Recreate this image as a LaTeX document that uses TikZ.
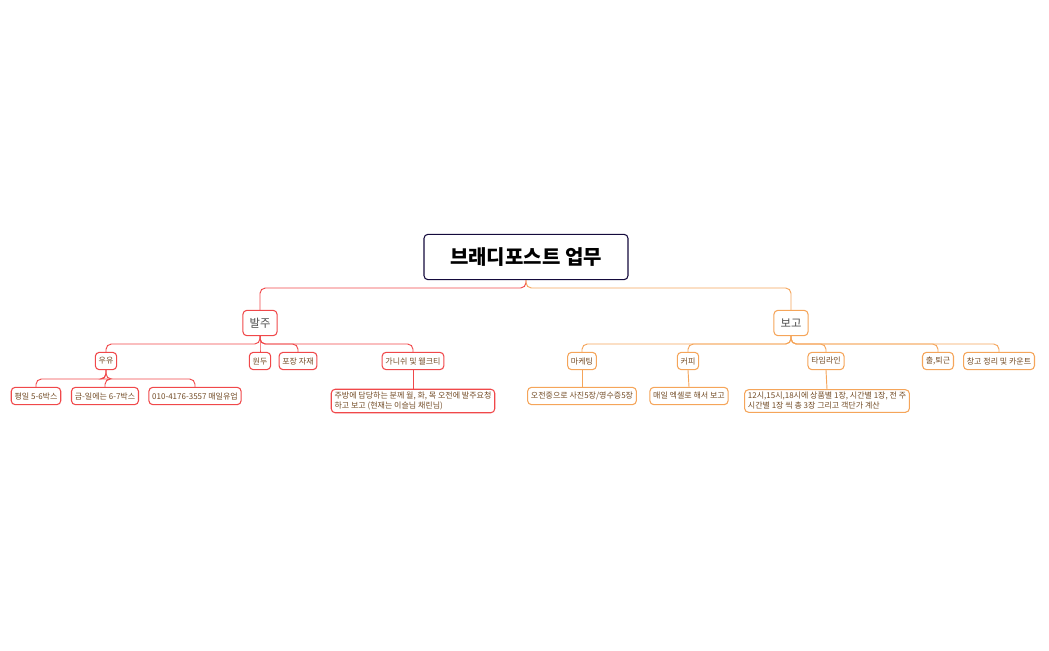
\documentclass[tikz,border=0pt]{standalone}
\usepackage{fontspec}
\setmainfont{Noto Sans CJK KR}
\begin{document}
\begin{tikzpicture}[x=0.75pt,y=-0.75pt,
  every node/.style={font=\fontsize{6}{7.5}\selectfont,rounded corners=3pt,line width=0.8pt,inner xsep=2.5pt,inner ysep=2pt,text=brown!60!black,fill=white},
  red/.style={draw={rgb,255:red,240;green,72;blue,74}},
  org/.style={draw={rgb,255:red,245;green,165;blue,90}},
  lv1/.style={font=\fontsize{8.5}{10}\selectfont,minimum height=19pt,inner xsep=5pt,text=black!70},
  lv2/.style={minimum height=13pt},
  lv3/.style={minimum height=13pt},
  rl/.style={draw={rgb,255:red,240;green,72;blue,74},line width=0.7pt,rounded corners=4pt},
  ol/.style={draw={rgb,255:red,245;green,165;blue,90},line width=0.7pt,rounded corners=4pt}]
\useasboundingbox (0,0) rectangle (1049,650);
\node[draw={rgb,255:red,20;green,10;blue,60},font=\fontsize{15}{18}\selectfont\bfseries,text=black,minimum width=153pt,minimum height=34pt] (root) at (526,257) {브래디포스트 업무};
\node[red,lv1] (a) at (260,323) {발주};
\node[org,lv1] (b) at (791,323) {보고};
\node[red,lv2] (a1) at (106,361) {우유};
\node[red,lv2] (a2) at (260,361) {원두};
\node[red,lv2] (a3) at (298,361) {포장 자재};
\node[red,lv2] (a4) at (413,361) {가니쉬 및 웰크티};
\node[red,lv3] (a11) at (36,396) {평일 5-6박스};
\node[red,lv3] (a12) at (105,396) {금-일에는 6-7박스};
\node[red,lv3] (a13) at (195,396) {010-4176-3557 매일유업};
\node[red,align=left] (a41) at (413,401) {주방에 담당하는 분께 월, 화, 목 오전에 발주요청\\하고 보고 (현재는 이슬님 채린님)};
\node[org,lv2] (b1) at (582,361) {마케팅};
\node[org,lv2] (b2) at (688,361) {커피};
\node[org,lv2] (b3) at (826,361) {타임라인};
\node[org,lv2] (b4) at (938,361) {출,퇴근};
\node[org,lv2] (b5) at (999,361) {창고 정리 및 카운트};
\node[org,lv3] (b11) at (582,396) {오전중으로 사진5장/영수증5장};
\node[org,lv3] (b21) at (689,396) {매일 엑셀로 해서 보고};
\node[org,align=left] (b31) at (827,401) {12시,15시,18시에 상품별 1장, 시간별 1장, 전 주\\시간별 1장 씩 총 3장 그리고 객단가 계산};
\begin{scope}[on background layer/.try]
\draw[rl] (root.south) -- (526,288) -| (a.north);
\draw[ol] (root.south) -- (526,288) -| (b.north);
\foreach \c in {a1,a2,a3,a4} \draw[rl] (a.south) -- (260,344) -| (\c.north);
\foreach \c in {b1,b2,b3,b4,b5} \draw[ol] (b.south) -- (791,344) -| (\c.north);
\foreach \c in {a11,a12,a13} \draw[rl] (a1.south) -- (106,379) -| (\c.north);
\draw[rl] (a4.south) -- (a41.north);
\draw[ol] (b1.south) -- (b11.north);
\draw[ol] (b2.south) -- (b21.north);
\draw[ol] (b3.south) -- (b31.north);
\end{scope}
\end{tikzpicture}
\end{document}
